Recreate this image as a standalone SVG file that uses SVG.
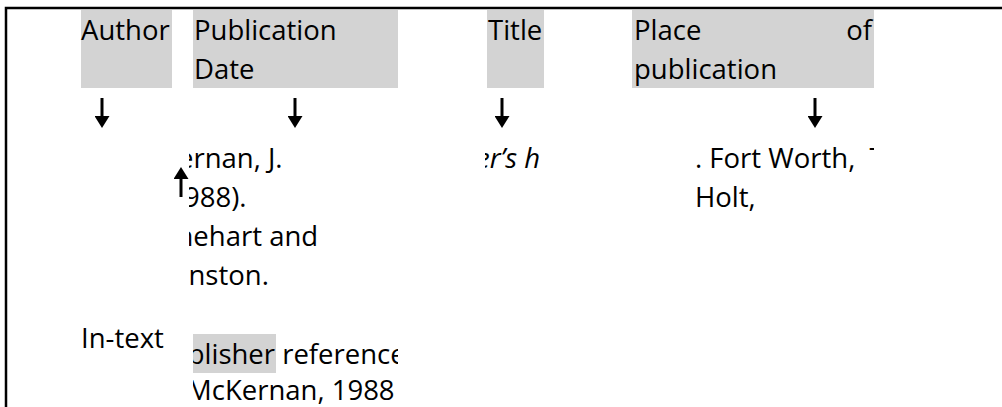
<svg xmlns="http://www.w3.org/2000/svg" width="1002" height="407" viewBox="0 0 1002 407">
  <style>
    .t { font-family: "Open Sans", "Liberation Sans", sans-serif; font-size: 27.5px; fill: #000; }
    .i { font-style: italic; }
    .box { fill: #d3d3d3; }
    .frame { fill: none; stroke: #000; stroke-width: 2.5; }
    .arrow { stroke: #000; stroke-width: 3; fill: none; marker-end: url(#head); }
  </style>
  <defs>
    <marker id="head" markerUnits="userSpaceOnUse" viewBox="0 0 12 15" refX="4" refY="7.5" markerWidth="12" markerHeight="15" orient="auto">
      <path d="M0,0 L12,7.5 L0,15 Z" fill="#000"/>
    </marker>
    <clipPath id="colA"><rect x="189" y="130" width="209" height="170"/></clipPath>
    <clipPath id="colB"><rect x="193" y="320" width="205" height="90"/></clipPath>
    <clipPath id="colT"><rect x="485" y="130" width="59" height="60"/></clipPath>
    <clipPath id="colP"><rect x="680" y="130" width="194" height="100"/></clipPath>
  </defs>
  <rect width="1002" height="407" fill="#fff"/>
  <path class="frame" d="M6,407 V8 H1002"/>

  <g id="author">
    <rect class="box" x="81" y="10" width="91" height="78"/>
    <text class="t" x="81" y="40">Author</text>
  </g>
  <g id="publication-date">
    <rect class="box" x="193" y="10" width="205" height="78"/>
    <text class="t" x="194" y="40">Publication</text>
    <text class="t" x="194" y="79">Date</text>
  </g>
  <g id="title">
    <rect class="box" x="487" y="10" width="57" height="78"/>
    <text class="t" x="488" y="40">Title</text>
  </g>
  <g id="place-of-publication">
    <rect class="box" x="632" y="10" width="242" height="78"/>
    <text class="t" x="634" y="40">Place</text>
    <text class="t" x="872" y="40" text-anchor="end">of</text>
    <text class="t" x="634" y="79">publication</text>
  </g>

  <g id="reference-text" clip-path="url(#colA)">
    <text class="t" x="178" y="168">ernan, J.</text>
    <text class="t" x="184" y="207">988).</text>
    <text class="t" x="176.5" y="246">nehart and</text>
    <text class="t" x="188.5" y="285">nston.</text>
  </g>
  <g id="reference-title" clip-path="url(#colT)">
    <text class="t i" x="476" y="168">er’s h</text>
  </g>
  <g id="reference-place" clip-path="url(#colP)">
    <text class="t" x="695" y="168">. Fort Worth, <tspan dx="7">T</tspan></text>
    <text class="t" x="695" y="207">Holt,</text>
  </g>

  <g id="in-text">
    <text class="t" x="81" y="348">In-text</text>
  </g>
  <g id="in-text-example" clip-path="url(#colB)">
    <rect class="box" x="193" y="334" width="83" height="39"/>
    <text class="t" x="187.7" y="364">blisher reference</text>
    <text class="t" x="187" y="400">McKernan, 1988</text>
  </g>

  <g id="connectors">
    <line class="arrow" x1="102" y1="98" x2="102" y2="120"/>
    <line class="arrow" x1="295" y1="98" x2="295" y2="120"/>
    <line class="arrow" x1="502" y1="98" x2="502" y2="120"/>
    <line class="arrow" x1="815" y1="98" x2="815" y2="120"/>
    <line class="arrow" x1="181" y1="197" x2="181" y2="175"/>
  </g>
</svg>
